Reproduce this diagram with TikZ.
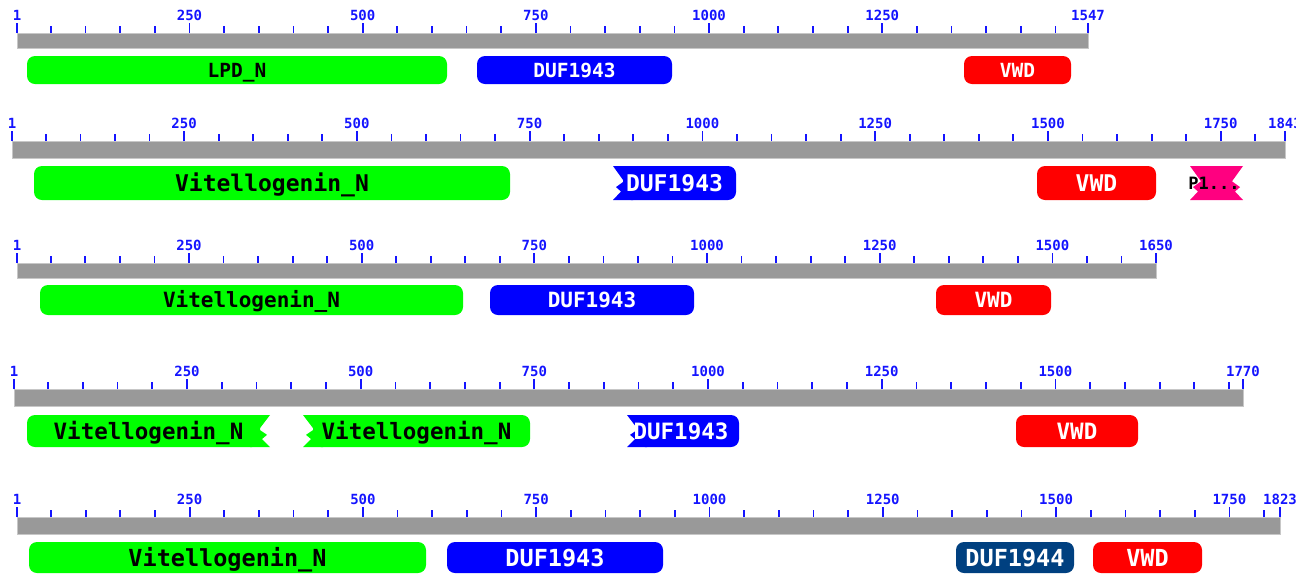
\documentclass[tikz,border=0pt]{standalone}
\usepackage{fontspec}
\setmonofont{DejaVu Sans Mono}

\definecolor{domgreen}{RGB}{0,255,0}
\definecolor{domblue}{RGB}{0,0,255}
\definecolor{domred}{RGB}{255,0,0}
\definecolor{domnavy}{RGB}{0,64,128}
\definecolor{dompink}{RGB}{255,0,128}
\definecolor{barfill}{RGB}{153,153,153}
\definecolor{tickblue}{RGB}{20,20,255}

\tikzset{
  bar/.style={fill=barfill, draw=black!22, line width=0.6pt},
  tick/.style={draw=tickblue, line width=1.8pt},
  ticklabel/.style={text=tickblue, inner sep=0pt, anchor=base, yshift=2.5pt,
    font=\ttfamily\bfseries\fontsize{14}{14}\selectfont},
  dlabel/.style={inner sep=0pt, text height={0.73*\dfs pt}, text depth=0pt,
    font=\ttfamily\bfseries\fontsize{\dfs}{\dfs}\selectfont},
  dombox/.style={dlabel, rounded corners=8pt},
}

% scale ruler: #1 id, #2 x of residue 1, #3 x of last residue, #4 length,
% #5 bar top, #6 bar bottom, #7 labelled positions
\newcommand\ruler[7]{%
  \pgfmathsetmacro\rs{(#3-#2)/(#4-1)}
  \fill[bar] (#2,#5) rectangle (#3,#6);
  \foreach \k in {50,100,...,#4}{\draw[tick] ({#2+(\k-1)*\rs},#5) -- ++(0,-7);}
  \foreach \k in {#7}{\draw[tick] ({#2+(\k-1)*\rs},#5) -- ++(0,-10.5)
      node[ticklabel] (#1-\k) {\k};}
}

% plain domain: #1 name, #2 x0, #3 x1, #4 y0, #5 y1, #6 fill, #7 text colour, #8 label
\newcommand\dombox[8]{%
  \node[dombox, fill=#6, text=#7, minimum width={(#3-#2)*1pt},
        minimum height={(#5-#4)*1pt}] (#1) at ({(#2+#3)/2},{(#4+#5)/2}) {#8};}

% torn left edge: #1 x0, #2 x1, #3 y0, #4 y1, #5 colour
\newcommand\tornleft[5]{%
  \fill[#5, rounded corners=8pt] ({#1+10},#3) rectangle (#2,#4);
  \fill[#5] (#1,#3) -- ({#1+20},#3) -- ({#1+20},#4) -- (#1,#4)
    -- ({#1+8},{#3+0.75*(#4-#3)}) -- ({#1+3},{#3+0.62*(#4-#3)})
    -- ({#1+11},{#3+0.45*(#4-#3)}) -- cycle;}

% torn right edge
\newcommand\tornright[5]{%
  \fill[#5, rounded corners=8pt] (#1,#3) rectangle ({#2-10},#4);
  \fill[#5] (#2,#3) -- ({#2-20},#3) -- ({#2-20},#4) -- (#2,#4)
    -- ({#2-8},{#3+0.75*(#4-#3)}) -- ({#2-3},{#3+0.62*(#4-#3)})
    -- ({#2-11},{#3+0.45*(#4-#3)}) -- cycle;}

% torn on both sides
\newcommand\tornboth[5]{%
  \fill[#5] (#1,#3) -- (#2,#3)
    -- ({#2-11},{#3+0.45*(#4-#3)}) -- ({#2-3},{#3+0.62*(#4-#3)})
    -- ({#2-8},{#3+0.75*(#4-#3)}) -- (#2,#4) -- (#1,#4)
    -- ({#1+8},{#3+0.75*(#4-#3)}) -- ({#1+3},{#3+0.62*(#4-#3)})
    -- ({#1+11},{#3+0.45*(#4-#3)}) -- cycle;}

\begin{document}
\begin{tikzpicture}[x=1pt,y=-1pt]
\useasboundingbox (0,0) rectangle (1296,574);
\clip (0,0) rectangle (1296,574);
\fill[white] (0,0) rectangle (1296,574);

% ---- protein 1 (1547 aa)
\def\dfs{19.5}
\ruler{a}{17}{1088}{1547}{33}{48}{1,250,500,750,1000,1250,1547}
\dombox{a-lpd}{27}{447}{56}{84}{domgreen}{black}{LPD\_N}
\dombox{a-duf}{477}{672}{56}{84}{domblue}{white}{DUF1943}
\dombox{a-vwd}{964}{1071}{56}{84}{domred}{white}{VWD}

% ---- protein 2 (1843 aa)
\def\dfs{23}
\ruler{b}{12}{1285}{1843}{141}{158}{1,250,500,750,1000,1250,1500,1750,1843}
\dombox{b-vit}{34}{510}{166}{200}{domgreen}{black}{Vitellogenin\_N}
\tornleft{613}{736}{166}{200}{domblue}
\node[dlabel, text=white] (b-duf) at (674.5,183) {DUF1943};
\dombox{b-vwd}{1037}{1156}{166}{200}{domred}{white}{VWD}
\tornboth{1190}{1243}{166}{200}{dompink}
\def\dfs{17}
\node[dlabel, text=black] (b-p) at (1214,183) {P1...};

% ---- protein 3 (1650 aa)
\def\dfs{21}
\ruler{c}{17}{1156}{1650}{263}{278}{1,250,500,750,1000,1250,1500,1650}
\dombox{c-vit}{40}{463}{285}{315}{domgreen}{black}{Vitellogenin\_N}
\dombox{c-duf}{490}{694}{285}{315}{domblue}{white}{DUF1943}
\dombox{c-vwd}{936}{1051}{285}{315}{domred}{white}{VWD}

% ---- protein 4 (1770 aa)
\def\dfs{22.5}
\ruler{d}{14}{1243}{1770}{389}{406}{1,250,500,750,1000,1250,1500,1770}
\tornright{27}{270}{415}{447}{domgreen}
\node[dlabel, text=black] (d-vit1) at (148.5,431) {Vitellogenin\_N};
\tornleft{303}{530}{415}{447}{domgreen}
\node[dlabel, text=black] (d-vit2) at (416.5,431) {Vitellogenin\_N};
\tornleft{627}{739}{415}{447}{domblue}
\node[dlabel, text=white] (d-duf) at (681,431) {DUF1943};
\dombox{d-vwd}{1016}{1138}{415}{447}{domred}{white}{VWD}

% ---- protein 5 (1823 aa)
\def\dfs{23.5}
\ruler{e}{17}{1280}{1823}{517}{534}{1,250,500,750,1000,1250,1500,1750,1823}
\dombox{e-vit}{29}{426}{542}{573}{domgreen}{black}{Vitellogenin\_N}
\dombox{e-duf}{447}{663}{542}{573}{domblue}{white}{DUF1943}
\dombox{e-duf44}{956}{1074}{542}{573}{domnavy}{white}{DUF1944}
\dombox{e-vwd}{1093}{1202}{542}{573}{domred}{white}{VWD}
\end{tikzpicture}
\end{document}
